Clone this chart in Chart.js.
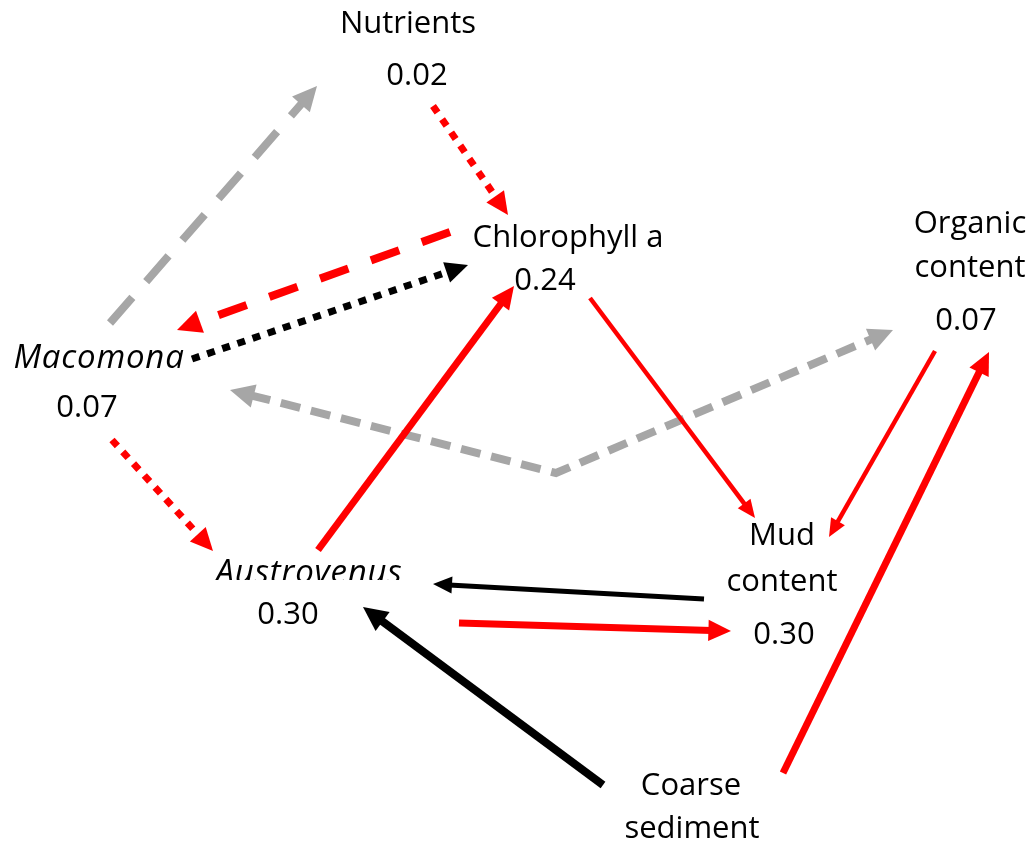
<!DOCTYPE html>
<html>
<head>
<meta charset="utf-8">
<script src="https://cdn.jsdelivr.net/npm/chart.js@4.4.1/dist/chart.umd.min.js"></script>
<style>
  html, body { margin: 0; padding: 0; background: #ffffff; }
  #wrap { position: relative; width: 1033px; height: 843px; }
</style>
</head>
<body>
<div id="wrap"><canvas id="pathChart"></canvas></div>
<script>
// Variables of the path model and the variance explained (R²) for each
const nodeNames = ['Nutrients', 'Chlorophyll a', 'Organic content', 'Macomona', 'Mud content', 'Austrovenus', 'Coarse sediment'];
const nodeR2 = [0.02, 0.24, 0.07, 0.07, 0.30, 0.30, null];
const italicNodes = ['Macomona', 'Austrovenus'];

// Paths between variables: source, target, sign of the effect, line type
const pathFrom = ['Macomona', 'Nutrients', 'Chlorophyll a', 'Macomona', 'Austrovenus', 'Chlorophyll a', 'Macomona', 'Macomona', 'Organic content', 'Coarse sediment', 'Mud content', 'Austrovenus', 'Coarse sediment'];
const pathTo = ['Nutrients', 'Chlorophyll a', 'Macomona', 'Chlorophyll a', 'Chlorophyll a', 'Mud content', 'Organic content', 'Austrovenus', 'Mud content', 'Organic content', 'Austrovenus', 'Mud content', 'Austrovenus'];
const pathSign = ['ns', 'pos', 'pos', 'neg', 'pos', 'pos', 'ns', 'pos', 'pos', 'pos', 'neg', 'pos', 'neg'];
const pathType = ['dashed', 'dotted', 'longdash', 'dotted', 'solid', 'solid', 'shortdash', 'dotted', 'solid', 'solid', 'solid', 'solid', 'solid'];
const pathHeads = ['end', 'end', 'end', 'end', 'end', 'end', 'both', 'end', 'end', 'end', 'end', 'end', 'end'];

// ---- layout (diagram units, y grows downward) ----
const labelLayout = {
  'Nutrients':       { rows: [[408, 33]], value: [417, 85] },
  'Chlorophyll a':   { rows: [[568, 247]], value: [545, 290] },
  'Organic content': { rows: [[970, 233], [970, 277]], value: [966, 330] },
  'Macomona':        { rows: [[99, 368]], value: [87, 417] },
  'Mud content':     { rows: [[782, 545], [782, 591]], value: [784, 644] },
  'Austrovenus':     { rows: [[309, 583]], value: [288, 624], clipBottom: 580 },
  'Coarse sediment': { rows: [[691, 795], [692, 838]], value: null }
};

// route of each path, from the source end to the arrow tip
const pathRoutes = [
  [[110, 323], [317, 86]],
  [[433, 106], [508, 215]],
  [[450, 232], [177, 330]],
  [[192, 359], [468, 265]],
  [[318, 550], [514, 286]],
  [[590, 298], [755, 518]],
  [[230, 390], [556, 473], [893, 330]],
  [[112, 440], [213, 551]],
  [[935, 351], [829, 537]],
  [[783, 773], [989, 352]],
  [[704, 599], [433, 584]],
  [[459, 623], [731, 631]],
  [[603, 785], [363, 607]]
];
const pathWidths = [8, 7, 8, 7, 7, 4.5, 8, 7, 4.5, 7, 5, 7, 8];

const signColours = { pos: '#ff0000', neg: '#000000', ns: '#a6a6a6' };
const typeDash = { solid: [], dotted: [8, 8], dashed: [34, 21], longdash: [30, 24], shortdash: [20, 11] };

const FONT_FAMILY = '"Open Sans", "Noto Sans", sans-serif';
const FONT_SIZE = 31;
const ITALIC_SIZE = 33;

const headLength = w => 10 + 1.8 * w;
const headWidth = w => 6 + 2.2 * w;

// pull the end point b back toward a so the shaft stops inside the arrowhead
function pullBack(a, b, len) {
  const dx = b.x - a.x, dy = b.y - a.y, d = Math.hypot(dx, dy);
  return { x: b.x - dx / d * len, y: b.y - dy / d * len };
}

function shaftPoints(i) {
  const pts = pathRoutes[i].map(p => ({ x: p[0], y: p[1] }));
  const n = pts.length;
  const cut = headLength(pathWidths[i]) - 3;
  const out = pts.slice();
  out[n - 1] = pullBack(pts[n - 2], pts[n - 1], cut);
  if (pathHeads[i] === 'both') out[0] = pullBack(pts[1], pts[0], cut);
  return out;
}

const datasets = pathFrom.map((from, i) => ({
  label: from + ' → ' + pathTo[i],
  data: shaftPoints(i),
  showLine: true,
  borderColor: signColours[pathSign[i]],
  backgroundColor: signColours[pathSign[i]],
  borderWidth: pathWidths[i],
  borderDash: typeDash[pathType[i]],
  borderCapStyle: 'butt',
  borderJoinStyle: 'miter',
  pointRadius: 0,
  pointHoverRadius: 0,
  tension: 0,
  fill: false
}));

// arrowheads at the tips of each path
const arrowheadPlugin = {
  id: 'arrowheads',
  afterDatasetsDraw(chart) {
    const { ctx, scales: { x, y } } = chart;
    const drawHead = (from, tip, w, colour) => {
      const fx = x.getPixelForValue(from[0]), fy = y.getPixelForValue(from[1]);
      const tx = x.getPixelForValue(tip[0]), ty = y.getPixelForValue(tip[1]);
      const d = Math.hypot(tx - fx, ty - fy);
      const ux = (tx - fx) / d, uy = (ty - fy) / d;
      const L = headLength(w), H = headWidth(w) / 2;
      const bx = tx - ux * L, by = ty - uy * L;
      ctx.beginPath();
      ctx.moveTo(tx, ty);
      ctx.lineTo(bx - uy * H, by + ux * H);
      ctx.lineTo(bx + uy * H, by - ux * H);
      ctx.closePath();
      ctx.fillStyle = colour;
      ctx.fill();
    };
    ctx.save();
    pathRoutes.forEach((route, i) => {
      const colour = signColours[pathSign[i]];
      const n = route.length;
      drawHead(route[n - 2], route[n - 1], pathWidths[i], colour);
      if (pathHeads[i] === 'both') drawHead(route[1], route[0], pathWidths[i], colour);
    });
    ctx.restore();
  }
};

// variable names and R² values
const nodeLabelPlugin = {
  id: 'nodeLabels',
  afterDraw(chart) {
    const { ctx, scales: { x, y } } = chart;
    ctx.save();
    ctx.textAlign = 'center';
    ctx.textBaseline = 'alphabetic';
    ctx.fillStyle = '#000000';
    nodeNames.forEach((name, i) => {
      const lay = labelLayout[name];
      const italic = italicNodes.includes(name);
      const words = lay.rows.length > 1
        ? [name.slice(0, name.indexOf(' ')), name.slice(name.indexOf(' ') + 1)]
        : [name];
      ctx.save();
      if (lay.clipBottom) {
        ctx.beginPath();
        ctx.rect(0, 0, chart.width, y.getPixelForValue(lay.clipBottom));
        ctx.clip();
      }
      ctx.font = italic ? 'italic ' + ITALIC_SIZE + 'px ' + FONT_FAMILY : FONT_SIZE + 'px ' + FONT_FAMILY;
      ctx.letterSpacing = italic ? '0.8px' : '0px';
      words.forEach((w, k) => {
        ctx.fillText(w, x.getPixelForValue(lay.rows[k][0]), y.getPixelForValue(lay.rows[k][1]));
      });
      ctx.restore();
      if (nodeR2[i] !== null && lay.value) {
        ctx.font = FONT_SIZE + 'px ' + FONT_FAMILY;
        ctx.letterSpacing = '0px';
        ctx.fillText(nodeR2[i].toFixed(2), x.getPixelForValue(lay.value[0]), y.getPixelForValue(lay.value[1]));
      }
    });
    ctx.restore();
  }
};

function build() {
  new Chart(document.getElementById('pathChart'), {
    type: 'scatter',
    data: { datasets },
    options: {
      responsive: true,
      maintainAspectRatio: false,
      animation: false,
      events: [],
      layout: { padding: 0 },
      plugins: { legend: { display: false }, tooltip: { enabled: false } },
      scales: {
        x: { type: 'linear', min: 0, max: 1033, display: false },
        y: { type: 'linear', min: 0, max: 843, reverse: true, display: false }
      }
    },
    plugins: [arrowheadPlugin, nodeLabelPlugin]
  });
}

Promise.all([
  document.fonts.load(FONT_SIZE + 'px "Open Sans"'),
  document.fonts.load('italic ' + ITALIC_SIZE + 'px "Open Sans"')
]).then(build, build);
</script>
</body>
</html>
